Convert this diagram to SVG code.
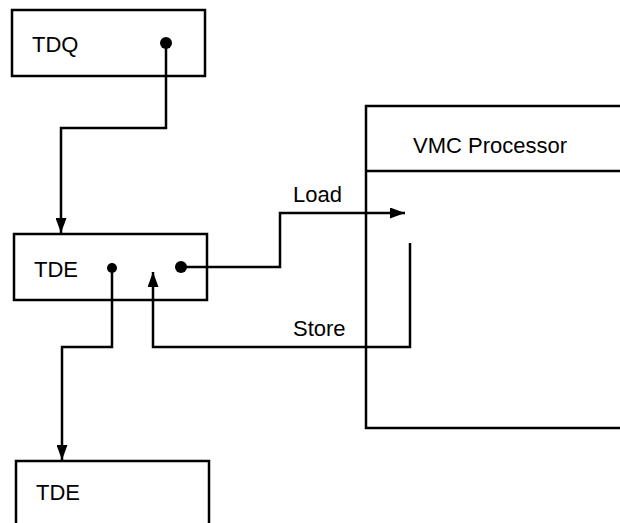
<svg xmlns="http://www.w3.org/2000/svg" width="620" height="523" viewBox="0 0 620 523">
<defs>
<marker id="arr" viewBox="0 0 15 11" refX="15" refY="5.5" markerWidth="15" markerHeight="11" markerUnits="userSpaceOnUse" orient="auto">
<path d="M0,0 L15,5.5 L0,11 Z" fill="#000"/>
</marker>
</defs>
<style>
.box{fill:#fff;stroke:#000;stroke-width:2.5}
.lbl{font-family:"Liberation Sans",Arial,sans-serif;font-size:22px;fill:#000}
.wire{fill:none;stroke:#000;stroke-width:2.5}
.dot{fill:#000}
</style>
<rect width="620" height="523" fill="#fff"/>
<g id="vmc">
<rect class="box" x="366" y="106" width="280" height="322"/>
<line class="wire" x1="366" y1="171" x2="620" y2="171"/>
<text class="lbl" x="413" y="153">VMC Processor</text>
</g>
<g id="tdq">
<rect class="box" x="12" y="10" width="193" height="66"/>
<text class="lbl" x="32" y="52">TDQ</text>
</g>
<g id="tde1">
<rect class="box" x="14" y="234" width="193" height="66"/>
<text class="lbl" x="34" y="277">TDE</text>
</g>
<g id="tde2">
<rect class="box" x="16" y="461" width="193" height="80"/>
<text class="lbl" x="36" y="500">TDE</text>
</g>
<g id="connectors">
<polyline class="wire" points="166,43 166,128 61,128 61,233" marker-end="url(#arr)"/>
<polyline class="wire" points="181,267 280,267 280,213 405,213" marker-end="url(#arr)"/>
<polyline class="wire" points="410,243 410,347 153,347 153,272" marker-end="url(#arr)"/>
<polyline class="wire" points="112,268 112,347 62,347 62,460" marker-end="url(#arr)"/>
<circle class="dot" cx="166" cy="43" r="6"/>
<circle class="dot" cx="112" cy="268" r="5"/>
<circle class="dot" cx="181" cy="267" r="6"/>
<text class="lbl" x="293" y="202">Load</text>
<text class="lbl" x="293" y="336">Store</text>
</g>
</svg>
